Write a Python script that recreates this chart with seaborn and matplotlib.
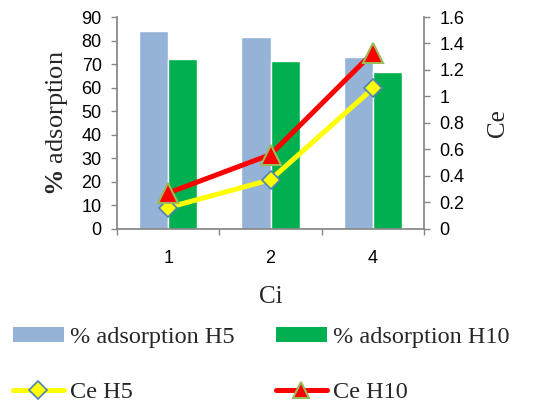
import matplotlib
matplotlib.use("Agg")
import matplotlib.pyplot as plt
import seaborn as sns
import pandas as pd
from matplotlib.patches import Patch
from matplotlib.lines import Line2D

categories = ["1", "2", "4"]
ads_h5 = [84.0, 81.5, 73.1]
ads_h10 = [72.3, 71.4, 66.5]
ce_h5 = [0.16, 0.37, 1.06]
ce_h10 = [0.27, 0.56, 1.33]
series_names = ["% adsorption H5", "% adsorption H10"]

sns.set_theme(style="white")
plt.rcParams["font.family"] = ["Liberation Sans", "DejaVu Sans"]
plt.rcParams["mathtext.fontset"] = "custom"
plt.rcParams["mathtext.rm"] = "Liberation Serif"
plt.rcParams["mathtext.bf"] = "Liberation Serif:bold"

df = pd.DataFrame({
    "Ci": categories * 2,
    "value": ads_h5 + ads_h10,
    "series": [series_names[0]] * 3 + [series_names[1]] * 3,
})

fig = plt.figure(figsize=(5.56, 4.05), dpi=100)
ax = fig.add_axes([117 / 556, 1 - 228.7 / 405, (424 - 117) / 556, (228.7 - 17) / 405])
bar_colors = ["#95B3D7", "#00B050"]
sns.barplot(data=df, x="Ci", y="value", hue="series", order=categories,
            hue_order=series_names, palette=bar_colors, width=0.57, gap=0,
            ax=ax, legend=False, saturation=1)
ax.set_ylim(0, 90)
ax.set_yticks(range(0, 91, 10))
ax.set_xlim(-0.5, 2.5)
ax.set_xlabel("Ci", family="Liberation Serif", fontsize=18, labelpad=14)
ax.set_ylabel(r"$\mathbf{\%}$ adsorption", family="Liberation Serif", fontsize=19, labelpad=8)

ax2 = ax.twinx()
xs = ax.get_xticks()
ax2.plot(xs, ce_h5, color="#FFFF00", lw=3.6, marker="D", markersize=9,
         markerfacecolor="#FFFF00", markeredgecolor="#4F81BD", markeredgewidth=1.2, zorder=3)
ax2.plot(xs, ce_h10, color="#FF0000", lw=3.6, marker="^", markersize=14,
         markerfacecolor="#FF0000", markeredgecolor="#9BBB59", markeredgewidth=1.5, zorder=4)
ax2.set_ylim(0, 1.6)
ax2.set_yticks([0, 0.2, 0.4, 0.6, 0.8, 1, 1.2, 1.4, 1.6])
ax2.set_yticklabels(["0", "0.2", "0.4", "0.6", "0.8", "1", "1.2", "1.4", "1.6"])
ax2.set_ylabel("Ce", family="Liberation Serif", fontsize=18, labelpad=16)

gray = "#868686"
for a in (ax, ax2):
    for s in a.spines.values():
        s.set_visible(False)
    a.tick_params(labelsize=13, colors="black", length=4, width=1, color=gray)
    a.grid(False)
ax.spines["left"].set_visible(True)
ax.spines["left"].set_color(gray)
ax.spines["bottom"].set_visible(True)
ax.spines["bottom"].set_color(gray)
ax2.spines["right"].set_visible(True)
ax2.spines["right"].set_color(gray)
ax.tick_params(axis="y", left=True, direction="out", pad=7)
ax2.tick_params(axis="y", right=True, direction="out", pad=7)
ax.tick_params(axis="x", bottom=False, pad=11)
# category boundary ticks
ax.set_xticks([-0.5, 0.5, 1.5, 2.5], minor=True)
ax.tick_params(axis="x", which="minor", bottom=True, length=4, width=1, color=gray, direction="out")

handles = [
    Patch(facecolor=bar_colors[0], edgecolor="none"),
    Patch(facecolor=bar_colors[1], edgecolor="none"),
    Line2D([], [], color="#FFFF00", lw=3.6, marker="D", markersize=9,
           markerfacecolor="#FFFF00", markeredgecolor="#4F81BD", markeredgewidth=1.2),
    Line2D([], [], color="#FF0000", lw=3.6, marker="^", markersize=12,
           markerfacecolor="#FF0000", markeredgecolor="#9BBB59", markeredgewidth=1.5),
]
labels = ["% adsorption H5", "Ce H5", "% adsorption H10", "Ce H10"]
handles = [handles[0], handles[2], handles[1], handles[3]]
fig.legend(handles, labels, loc="upper left", bbox_to_anchor=(0.005, 1 - 317 / 405),
           ncol=2, frameon=False, prop={"family": "Liberation Serif", "size": 17.5},
           handlelength=2.1, handleheight=0.6, handletextpad=0.25, columnspacing=1.7,
           labelspacing=1.4, borderaxespad=0, borderpad=0.4)

fig.savefig("out.png", dpi=100)
